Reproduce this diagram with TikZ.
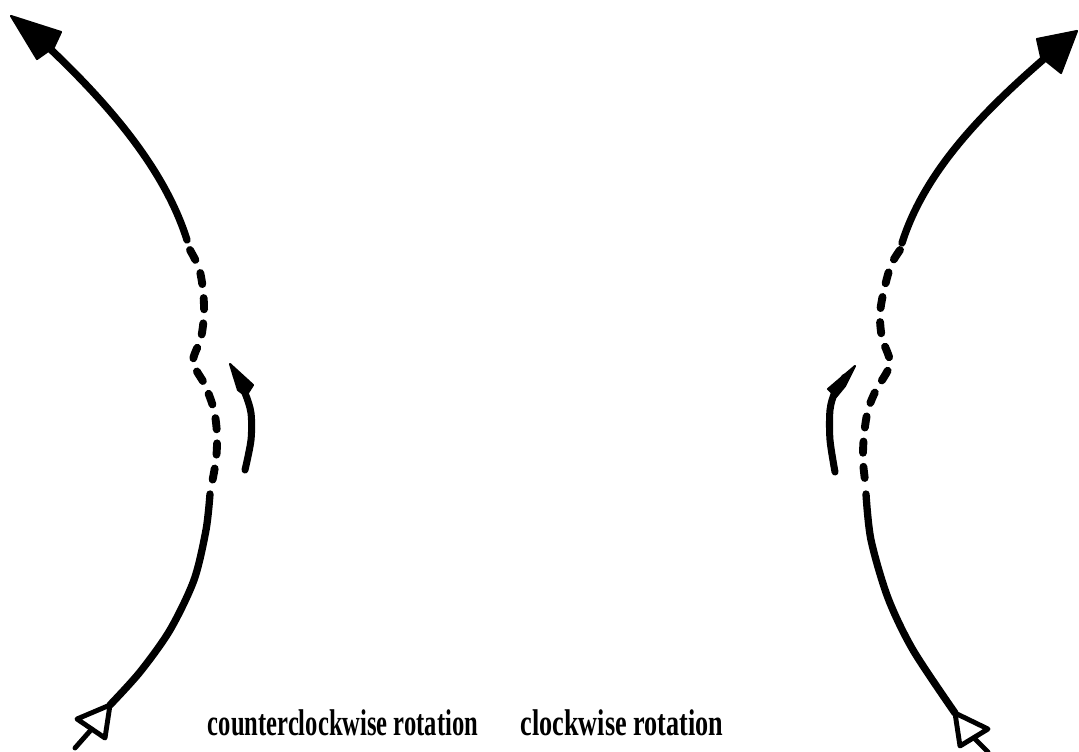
\documentclass[tikz,border=0pt]{standalone}
\usepackage{fontspec}
\setmainfont{Liberation Serif}
\begin{document}
\begin{tikzpicture}[x=0.025cm,y=-0.025cm,
 solidline/.style={line width=5.2pt,line cap=round,line join=round},
 dashline/.style={line width=5.6pt,line cap=round,dash pattern=on 8pt off 10pt},
 smallarrow/.style={line width=5pt,line cap=round},
 tipfill/.style={fill=black,draw=black,line width=1.5pt,line join=round},
 tailline/.style={line width=3.5pt,line join=round,line cap=round},
 lbl/.style={font=\fontsize{23}{23}\selectfont\bfseries,inner sep=0pt,anchor=base}]
\useasboundingbox (0,0) rectangle (1079,751);

% ---------- left (counterclockwise) ----------
\coordinate (LT) at (11,16);
\coordinate (LA) at (45,44);
\coordinate (LD) at (187,240);
\coordinate (LS) at (110,705);
\filldraw[tipfill] (LT) -- (61,32) -- (54,47) -- (37,59) -- cycle;
\draw[solidline] (LA) .. controls (110,105) and (165,170) .. (LD);
\draw[dashline] plot[smooth] coordinates {(190,250) (199,268) (203,290) (204,314) (201,338) (193,362) (205,385) (214,410) (217,435) (216,460) (211,488)};
\draw[solidline] plot[smooth] coordinates {(210,494) (206,530) (194,580) (170,630) (140,672) (LS)};
\draw[tailline] (LS) -- (77,719) -- (105,738) -- cycle;
\draw[tailline] (90,731) -- (75,748);
% small arrow
\draw[smallarrow] plot[smooth] coordinates {(245,470) (251,440) (251,413) (245,393) (236,375)};
\filldraw[tipfill] (230,364) -- (253,385) -- (246,396) -- (238,390) -- cycle;

% ---------- right (clockwise) ----------
\coordinate (RT) at (1077,31);
\coordinate (RA) at (1045,58);
\coordinate (RD) at (902,243);
\coordinate (RS) at (955,713);
\filldraw[tipfill] (RT) -- (1037,39) -- (1041,57) -- (1061,73) -- cycle;
\draw[solidline] (RA) .. controls (985,110) and (925,170) .. (RD);
\draw[dashline] plot[smooth] coordinates {(900,250) (891,265) (884,290) (880,314) (882,338) (890,364) (876,390) (868,410) (864,435) (863,461) (866,488)};
\draw[solidline] plot[smooth] coordinates {(866,494) (871,540) (888,598) (913,650) (RS)};
\draw[tailline] (RS) -- (988,729) -- (960,746) -- cycle;
\draw[tailline] (974,738) -- (988,752);
% small arrow
\draw[smallarrow] plot[smooth] coordinates {(835,472) (830,440) (830,410) (835,392) (845,377)};
\filldraw[tipfill] (855,366) -- (845,386) -- (836,397) -- (828,389) -- cycle;

% ---------- labels ----------
\node[lbl,xscale=0.76,yscale=1.15] (ccw) at (343,735) {counterclockwise rotation};
\node[lbl,xscale=0.81,yscale=1.15] (cw) at (622,735) {clockwise rotation};
\end{tikzpicture}
\end{document}
